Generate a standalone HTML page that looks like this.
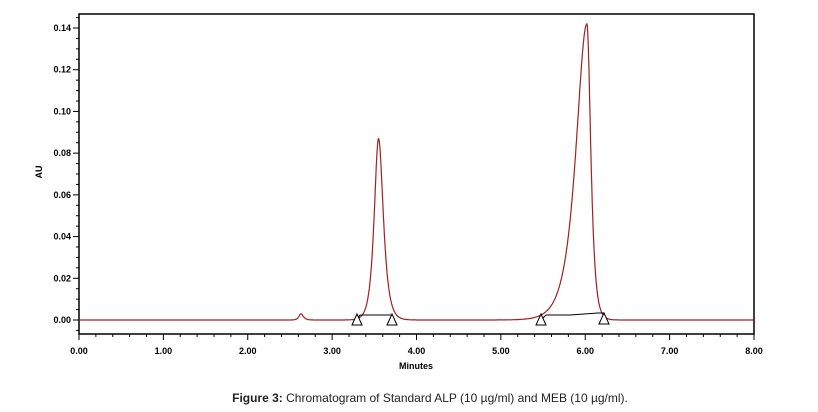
<!DOCTYPE html>
<html><head><meta charset="utf-8"><style>
body{margin:0;background:#fff;width:818px;height:412px;overflow:hidden}
svg{display:block}
.t{font-family:"Liberation Sans",sans-serif;font-weight:bold;font-size:9px;fill:#000}
</style></head><body>
<svg id="s" width="818" height="412" xmlns="http://www.w3.org/2000/svg">
<rect x="79" y="14" width="675" height="320" fill="none" stroke="#000" stroke-width="1.5"/>
<g id="ax" stroke="#000" stroke-width="1"></g>
<g id="lb"></g>
<text class="t" x="416" y="369" text-anchor="middle" font-size="9">Minutes</text>
<text class="t" x="42" y="172" text-anchor="middle" font-size="10" font-weight="normal" transform="rotate(-90 42 172)">AU</text>
<path id="cv" fill="none" stroke="#a02020" stroke-width="1.2"/>
<g stroke="#000" stroke-width="1" fill="none">
<polyline points="357,320 360,315 392,315"/>
<polyline points="541,320 546,315 570,315 598,313 604,313"/>
<polygon points="357,314 352,325 362,325" fill="#fff"/>
<polygon points="392,314 387,325 397,325" fill="#fff"/>
<polygon points="541,314 536,325 546,325" fill="#fff"/>
<polygon points="604,313 599,324 609,324" fill="#fff"/>
</g>
<text x="430" y="402" text-anchor="middle" style="font-family:'Liberation Sans',sans-serif;font-size:12px" fill="#222"><tspan font-weight="bold">Figure 3:</tspan> Chromatogram of Standard ALP (10 µg/ml) and MEB (10 µg/ml).</text>
</svg>
<script>
var X=function(t){return 79+t*84.375},Y=function(v){return 320-v*2085.7};
var ax=document.getElementById('ax'),lb=document.getElementById('lb'),ns='http://www.w3.org/2000/svg';
function L(x1,y1,x2,y2){var l=document.createElementNS(ns,'line');l.setAttribute('x1',x1);l.setAttribute('y1',y1);l.setAttribute('x2',x2);l.setAttribute('y2',y2);ax.appendChild(l);}
function T(x,y,s,a){var t=document.createElementNS(ns,'text');t.setAttribute('class','t');t.setAttribute('x',x);t.setAttribute('y',y);t.setAttribute('text-anchor',a);t.textContent=s;lb.appendChild(t);}
for(var i=0;i<=40;i++){var x=X(i*0.2);L(x,334,x,334+(i%5==0?6:3));if(i%5==0)T(x,354,(i/5).toFixed(2),'middle');}
for(var i=-1;i<=29;i++){var y=Y(i*0.005);if(y<14||y>334)continue;L(79,y,79-(i%4==0?6:3),y);if(i%4==0&&i>=0)T(71,y+3,(i*0.005).toFixed(2),'end');}
function pk(t,c,h,a,b){var d=t-c;return h/Math.cosh(d/(d<0?a:b));}
var d='';for(var t=0;t<=8;t+=0.004){var v=pk(t,2.63,0.003,0.02,0.025)+pk(t,3.55,0.087,0.045,0.05)+pk(t,6.02,0.142,0.114,0.04);d+=(t==0?'M':'L')+X(t).toFixed(1)+','+Y(v).toFixed(1);}
document.getElementById('cv').setAttribute('d',d);
</script>
</body></html>
